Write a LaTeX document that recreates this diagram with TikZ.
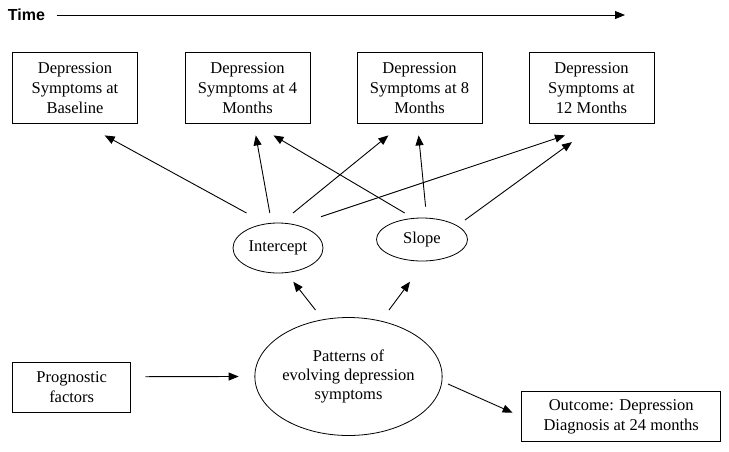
\documentclass[tikz,border=0pt]{standalone}
\usepackage{fontspec}
\setmainfont{Liberation Serif}
\newfontfamily\timefont{Liberation Sans}
\usetikzlibrary{arrows.meta,calc,shapes.geometric}
\tikzset{
  box/.style={draw, line width=0.8pt, inner sep=0pt, align=center,
    font=\fontsize{16.5}{20}\selectfont},
  ell/.style={draw, ellipse, line width=0.8pt, inner sep=0pt, align=center,
    font=\fontsize{16.5}{19}\selectfont},
  arr/.style={line width=0.9pt, -{Triangle[length=10pt,width=8pt]}},
  timelbl/.style={inner sep=0pt, font=\timefont\bfseries\fontsize{16}{18}\selectfont}
}
\begin{document}
\begin{tikzpicture}[x=1pt,y=-1pt]
\useasboundingbox (0,0) rectangle (729,451);
% time axis
\node[timelbl] (time) at (26.5,15) {Time};
\coordinate (tend) at (625,15);
\draw[arr, shorten <=11.5pt] (time.east) -- (tend);
% measurement boxes
\node[box, minimum width=125pt, minimum height=71pt] (b1) at (75,87.8) {Depression\\Symptoms at\\Baseline};
\node[box, minimum width=125pt, minimum height=71pt] (b2) at (247.5,87.8) {Depression\\Symptoms at 4\\Months};
\node[box, minimum width=125pt, minimum height=71pt] (b3) at (419.5,87.8) {Depression\\Symptoms at 8\\Months};
\node[box, minimum width=125pt, minimum height=71pt] (b4) at (591.5,87.8) {Depression\\Symptoms at\\12 Months};
% latent ellipses
\node[ell, minimum width=90pt, minimum height=50pt] (int) at (278,248) {Intercept};
\node[ell, minimum width=91pt, minimum height=43pt] (slo) at (422,239.5) {Slope};
\node[ell, minimum width=184pt, minimum height=118pt] (big) at (348.5,376.5) {Patterns of\\evolving depression\\symptoms};
% side boxes
\node[box, minimum width=118pt, minimum height=50.7pt] (prog) at (71.7,387.3) {Prognostic\\factors};
\node[box, minimum width=199pt, minimum height=50pt] (out) at (621.2,416.7) {Outcome: Depression\\Diagnosis at 24 months};
% arrows intercept/slope -> boxes
\draw[arr] ($(int)+(-31.5,-35)$) -- ($(b1.south)+(29.7,11.7)$);
\draw[arr] ($(int)+(-8.2,-35)$) -- ($(b2.south)+(8.3,11.7)$);
\draw[arr] ($(slo)+(-17.3,-26.5)$) -- ($(b2.south)+(26,11.7)$);
\draw[arr] ($(int)+(15,-35)$) -- ($(b3.south)+(-31.1,11.7)$);
\draw[arr] ($(slo)+(3.6,-32.8)$) -- ($(b3.south)+(-0.9,11.7)$);
\draw[arr] ($(int)+(43,-31.3)$) -- ($(b4.south)+(-26.5,11.7)$);
\draw[arr] ($(slo)+(43,-19.5)$) -- ($(b4.south)+(-19.5,18.4)$);
% arrows from patterns
\draw[arr] ($(big)+(-33,-66.5)$) -- ($(int)+(15.3,33.7)$);
\draw[arr] ($(big)+(40.5,-66.5)$) -- ($(slo)+(-12,42.2)$);
\draw[arr] ($(prog.east)+(14.3,-10.6)$) -- ($(big.west)+(-15.8,0)$);
\draw[arr] ($(big)+(99.5,7.5)$) -- ($(out.west)+(-8.7,-4)$);
\end{tikzpicture}
\end{document}
